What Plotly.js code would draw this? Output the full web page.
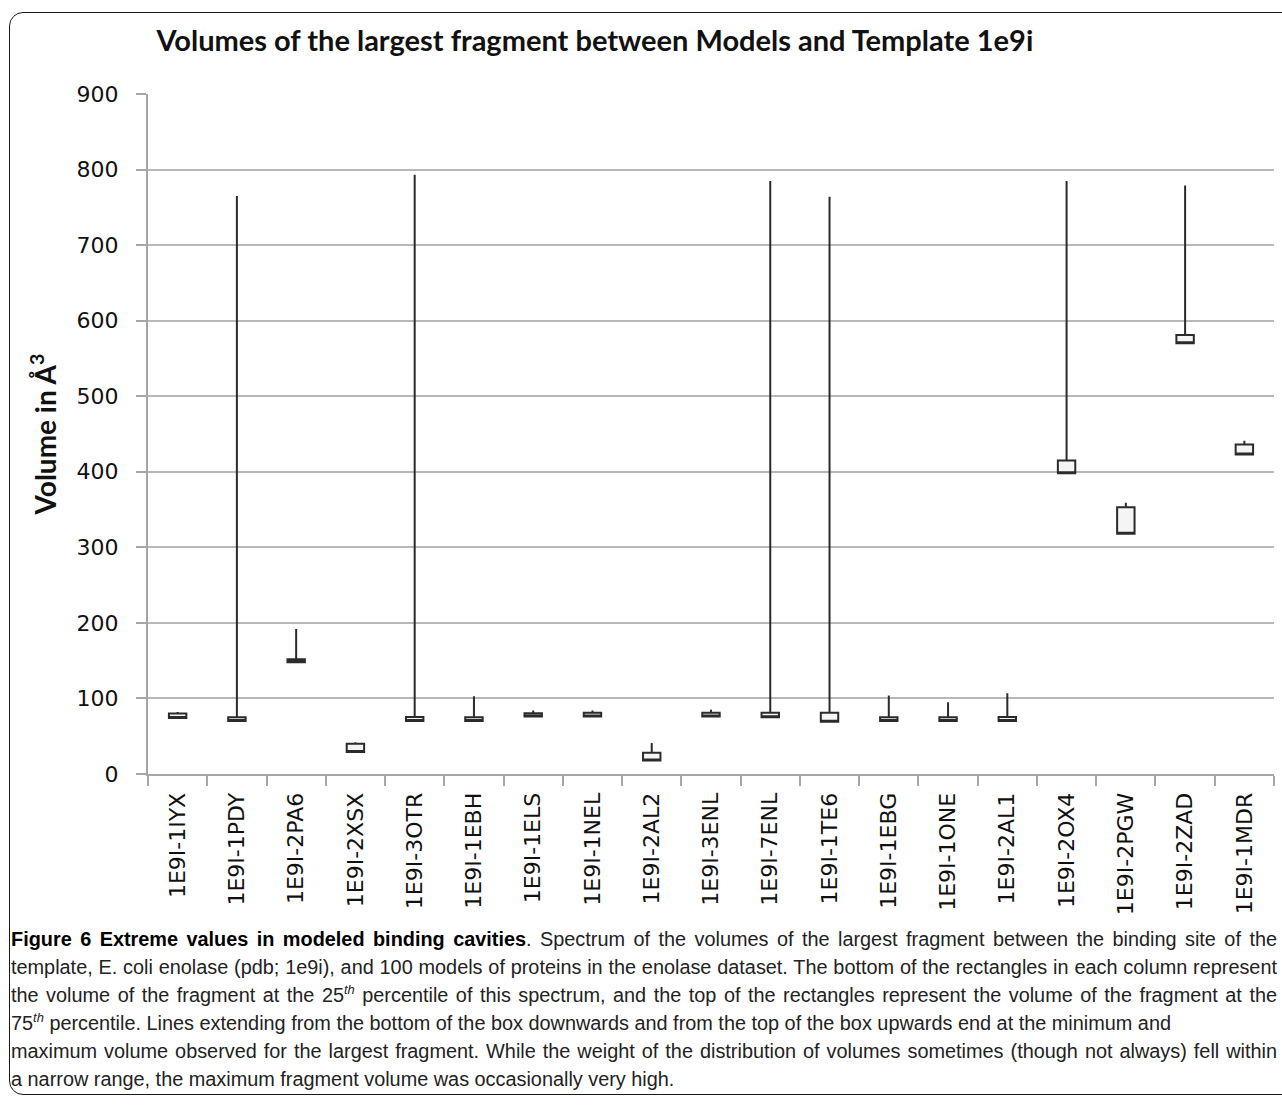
<!DOCTYPE html>
<html>
<head>
<meta charset="utf-8">
<script src="https://cdn.plot.ly/plotly-3.0.1.min.js"></script>
<style>
  html, body { margin: 0; padding: 0; background: #fff; width: 1282px; height: 1105px; overflow: hidden; }
  #card { position: absolute; left: 9px; top: 12px; width: 1300px; height: 1083px;
          border: 1.5px solid #1a1a1a; border-radius: 14px; box-sizing: border-box; }
  #chart { position: absolute; left: 0; top: 0; width: 1282px; height: 1105px; }
  #caption { position: absolute; left: 11px; top: 925px; width: 3000px;
             transform-origin: 0 0;
             font-family: "Liberation Sans", Arial, sans-serif;
             font-size: 20px; line-height: 28px; color: #222; }
  #caption .j { text-align: justify; text-align-last: justify; }
  #caption b { color: #000; }
  #caption sup { font-size: 65%; line-height: 0; }
</style>
</head>
<body>
<div id="card"></div>
<div id="chart"></div>
<div id="caption">
  <div class="j"><b>Figure 6 Extreme values in modeled binding cavities</b>. Spectrum of the volumes of the largest fragment between the binding site of the</div>
  <div class="j">template, E. coli enolase (pdb; 1e9i), and 100 models of proteins in the enolase dataset. The bottom of the rectangles in each column represent</div>
  <div class="j">the volume of the fragment at the 25<sup><i>th</i></sup> percentile of this spectrum, and the top of the rectangles represent the volume of the fragment at the</div>
  <div><span id="refline">75<sup><i>th</i></sup> percentile. Lines extending from the bottom of the box downwards and from the top of the box upwards end at the minimum and</span></div>
  <div class="j">maximum volume observed for the largest fragment. While the weight of the distribution of volumes sometimes (though not always) fell within</div>
  <div>a narrow range, the maximum fragment volume was occasionally very high.</div>
</div>
<script>
// Model / template pairs
const pairs = ["1E9I-1IYX", "1E9I-1PDY", "1E9I-2PA6", "1E9I-2XSX", "1E9I-3OTR", "1E9I-1EBH",
               "1E9I-1ELS", "1E9I-1NEL", "1E9I-2AL2", "1E9I-3ENL", "1E9I-7ENL", "1E9I-1TE6",
               "1E9I-1EBG", "1E9I-1ONE", "1E9I-2AL1", "1E9I-2OX4", "1E9I-2PGW", "1E9I-2ZAD",
               "1E9I-1MDR"];

// Largest-fragment volumes (Å³): minimum, 25th percentile, 75th percentile, maximum
const volMin = [74, 70, 148, 29, 70, 70, 76, 76, 18, 76, 75, 69, 70, 70, 70, 398, 318, 570, 423];
const volP25 = [74, 70, 148, 29, 70, 70, 76, 76, 18, 76, 75, 69, 70, 70, 70, 398, 318, 570, 423];
const volP75 = [80, 75, 152, 40, 75.5, 75, 80.5, 81, 28, 81, 81, 81, 75, 75, 75.5, 415, 353, 581, 436];
const volMax = [82, 765, 192, 42, 793, 103, 84, 84, 41, 85, 785, 764, 104, 95, 107, 785, 359, 779, 441];

const yTicks = [0, 100, 200, 300, 400, 500, 600, 700, 800, 900];

// Condensed caption: scale the paragraph horizontally so its unjustified
// fourth line ends where the text block is meant to end.
(function fitCaption() {
  const cap = document.getElementById("caption");
  const w = document.getElementById("refline").getBoundingClientRect().width;
  const s = 1160 / w;
  cap.style.width = (1266 / s) + "px";
  cap.style.transform = "scaleX(" + s + ")";
})();

const trace = {
  type: "box",
  x: pairs,
  q1: volP25,
  median: volP25,
  q3: volP75,
  lowerfence: volMin,
  upperfence: volMax,
  boxpoints: false,
  whiskerwidth: 0,
  fillcolor: "#f5f5f5",
  line: { color: "#2b2b2b", width: 2 },
  hoverinfo: "x"
};

const layout = {
  width: 1282,
  height: 1105,
  margin: { l: 148, r: 8, t: 94, b: 331 },
  paper_bgcolor: "rgba(0,0,0,0)",
  plot_bgcolor: "rgba(0,0,0,0)",
  showlegend: false,
  boxgap: 0.58,
  title: {
    text: "<b>Volumes of the largest fragment between Models and Template 1e9i</b>",
    font: { family: "Lato, 'Open Sans', sans-serif", size: 29, color: "#111" },
    xref: "container", yref: "container",
    x: 0.464, xanchor: "center",
    y: 0.963, yanchor: "middle"
  },
  xaxis: {
    type: "category",
    tickangle: -90,
    ticks: "outside",
    tickson: "boundaries",
    ticklen: 10,
    tickwidth: 2,
    tickcolor: "#a6a6a6",
    showline: true,
    linecolor: "#a6a6a6",
    linewidth: 2,
    showgrid: false,
    tickfont: { family: "DejaVu Sans, Verdana, sans-serif", size: 22, color: "#111" },
    ticklabelstandoff: 8
  },
  yaxis: {
    range: [0, 900],
    tickvals: yTicks,
    ticktext: yTicks.map(String),
    ticks: "outside",
    ticklen: 10,
    tickwidth: 2,
    tickcolor: "#a6a6a6",
    showline: true,
    linecolor: "#a6a6a6",
    linewidth: 2,
    showgrid: true,
    gridcolor: "#b8b8b8",
    gridwidth: 2,
    zeroline: false,
    tickfont: { family: "DejaVu Sans, Verdana, sans-serif", size: 22, color: "#111" },
    ticklabelstandoff: 13,
    title: {
      text: "<b>Volume in Å<sup>3</sup></b>",
      font: { family: "Lato, 'Open Sans', sans-serif", size: 28, color: "#111" },
      standoff: 12
    }
  }
};

Plotly.newPlot("chart", [trace], layout, { displayModeBar: false, staticPlot: true });
</script>
</body>
</html>
